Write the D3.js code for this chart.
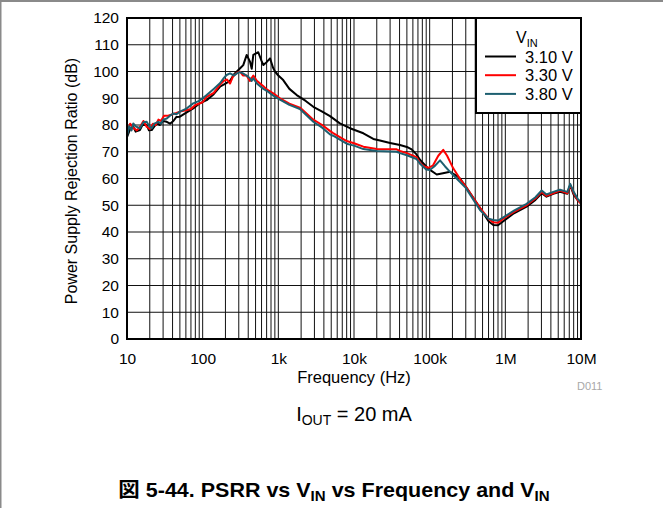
<!DOCTYPE html>
<html>
<head>
<meta charset="utf-8">
<script src="https://cdn.jsdelivr.net/npm/d3@7"></script>
<style>
  html, body { margin: 0; padding: 0; background: #fff; }
  svg { display: block; }
  text { font-family: "Liberation Sans", Arial, Helvetica, sans-serif; fill: #000; }
</style>
</head>
<body>
<svg id="chart" width="663" height="508"></svg>
<script>
// PSRR vs frequency for three input voltages (IOUT = 20 mA)
const seriesNames = ["3.10 V", "3.30 V", "3.80 V"];
const seriesColors = ["#000000", "#ff0000", "#1d5f70"];

const freq310 = [10, 11, 12.1, 13, 14.8, 16, 18.2, 19.5, 21.2, 23, 25, 27.3, 30, 33.5, 37, 41, 45, 50, 60, 75, 90, 113, 140, 169, 200, 230, 260, 283, 320, 344, 382, 422, 445, 467, 543, 600, 635, 700, 777, 850, 903, 1000, 1160, 1400, 1750, 2300, 2900, 3800, 4820, 6500, 8850, 13300, 18000, 22000, 30000, 40500, 50000, 57800, 67000, 74500, 90000, 101000, 124000, 150000, 186000, 227000, 252000, 300000, 462000, 600000, 693000, 800000, 940000, 1300000, 1910000, 2500000, 3020000, 3500000, 4300000, 5270000, 6600000, 7200000, 8000000, 9000000, 10000000];
const psrr310 = [75.5, 78.5, 79.4, 77.5, 78.1, 80, 80, 78, 78.1, 79.5, 80.5, 80, 81.5, 81.2, 80.5, 81.5, 83, 83.1, 84.5, 86.2, 88, 89.3, 91.5, 94.3, 95.5, 96.5, 99, 100, 101.5, 102.4, 106.2, 103.7, 101, 106.2, 107.2, 104, 102.4, 103.5, 104.9, 101.5, 100, 98.5, 96.8, 93.5, 91.2, 89, 86.8, 85, 83.3, 80.6, 78.8, 76.9, 74.8, 74.2, 73.3, 72.5, 71.8, 70.9, 69, 67, 64.5, 63.2, 61.5, 62, 62.5, 61, 60, 57, 49, 44, 42.6, 42.5, 44, 47, 49.5, 52, 54.5, 53.2, 54.3, 55, 54.3, 57.5, 54, 52, 50.8];

const freq330 = [10, 11, 12, 13.5, 15, 16.5, 18, 20, 22, 24, 26, 28, 31, 35, 40, 45, 50, 60, 70, 80, 100, 113, 140, 169, 190, 210, 230, 250, 283, 311, 340, 380, 422, 467, 520, 635, 702, 857, 1050, 1400, 1930, 2900, 3800, 4800, 5300, 8000, 10000, 13300, 20000, 36600, 40500, 50000, 67000, 74500, 85000, 96000, 110000, 130000, 151000, 170000, 205000, 250000, 300000, 462000, 600000, 693000, 800000, 940000, 1300000, 1910000, 2500000, 3020000, 3500000, 4300000, 5270000, 6600000, 7200000, 8000000, 9000000, 10000000];
const psrr330 = [77, 80.5, 79, 78, 79.5, 81.5, 79.5, 78.5, 80.5, 80, 82, 81.5, 83.5, 83.5, 84, 84.5, 85, 85.5, 86, 87.5, 88.5, 90.5, 92, 95, 96.5, 97, 95.5, 98, 99.5, 100, 98.5, 98.5, 96.5, 98.5, 96.5, 94.5, 93.3, 91.8, 90, 88, 86.5, 82, 80, 77.8, 77, 74, 73.2, 71.9, 71, 70.9, 70.3, 69.5, 68, 65.8, 64.5, 64, 64.8, 68.5, 70.7, 68.5, 63.8, 60, 57, 49, 45, 43.6, 43.5, 45, 47.5, 50, 52.5, 55, 53.5, 54.5, 55.5, 54.5, 57.5, 54.5, 52, 50.5];

const freq380 = [10, 10.7, 11.5, 12.1, 13, 14.8, 16.5, 18.2, 19.7, 21.2, 23, 25.9, 28, 30, 33.5, 37, 41, 45, 50, 60, 75, 90, 113, 140, 169, 190, 207, 230, 260, 283, 311, 340, 380, 422, 445, 467, 520, 635, 702, 857, 1050, 1400, 1930, 2900, 3800, 4800, 5300, 8000, 10000, 13300, 20000, 36600, 40500, 50000, 67000, 74500, 90000, 100000, 115000, 137000, 160000, 186000, 227000, 300000, 462000, 600000, 693000, 800000, 940000, 1300000, 1910000, 2500000, 3020000, 3500000, 4300000, 5270000, 6600000, 7200000, 8000000, 9000000, 10000000];
const psrr380 = [76, 79.5, 78, 80.6, 79.5, 78.8, 81, 81.2, 79.5, 78.8, 80.5, 81.2, 80.5, 82, 82.4, 83.5, 84.3, 84, 85, 86, 88.1, 89, 91.2, 93.5, 95.6, 97.5, 98.7, 99.3, 98.5, 99.3, 99.8, 99.3, 98.5, 97.5, 96.5, 97.5, 95.5, 93.5, 92.8, 91, 89.5, 87.5, 86, 81.2, 79, 76.5, 76, 73, 72.3, 71, 70.3, 70, 69.5, 68.7, 67.3, 65.5, 63.4, 63.2, 64.5, 66.8, 64.5, 62.5, 60, 56.5, 48.2, 45, 44.5, 44.3, 45.5, 48, 50.5, 53, 55.5, 54, 55, 55.8, 55, 58, 55, 52.5, 51];

const xTickValues = [10, 100, 1e3, 1e4, 1e5, 1e6, 1e7];
const xTickLabels = ["10", "100", "1k", "10k", "100k", "1M", "10M"];
const yTickValues = [0, 10, 20, 30, 40, 50, 60, 70, 80, 90, 100, 110, 120];

const seriesFreqs = [freq310, freq330, freq380];
const seriesValues = [psrr310, psrr330, psrr380];

const svg = d3.select("#chart");
const W = 663, H = 508;
const plot = { left: 127, right: 581, top: 18, bottom: 339 };

// page frame (grey rule along the top and left edge)
svg.append("rect").attr("x", 0).attr("y", 0).attr("width", W).attr("height", 2).attr("fill", "#8a8a8a");
svg.append("rect").attr("x", 0).attr("y", 0).attr("width", 1.5).attr("height", H).attr("fill", "#8a8a8a");

const x = d3.scaleLog().domain([10, 1e7]).range([plot.left, plot.right]);
const y = d3.scaleLinear().domain([0, 120]).range([plot.bottom, plot.top]);

const g = svg.append("g");

// minor + major vertical grid lines (1..9 per decade)
const vGrid = [];
for (let e = 1; e < 7; e++) {
  for (let m = 1; m <= 9; m++) vGrid.push(m * Math.pow(10, e));
}
vGrid.push(1e7);
g.append("g").selectAll("line").data(vGrid).join("line")
  .attr("x1", d => x(d)).attr("x2", d => x(d))
  .attr("y1", plot.top).attr("y2", plot.bottom)
  .attr("stroke", "#111").attr("stroke-width", 1);

// horizontal grid lines
g.append("g").selectAll("line").data(yTickValues).join("line")
  .attr("x1", plot.left).attr("x2", plot.right)
  .attr("y1", d => y(d)).attr("y2", d => y(d))
  .attr("stroke", "#111").attr("stroke-width", 1);

// axes: labels only, the frame is drawn separately
const yAxis = d3.axisLeft(y).tickValues(yTickValues).tickSize(0).tickPadding(8);
const yG = svg.append("g").attr("transform", `translate(${plot.left},0)`).call(yAxis);
yG.select(".domain").remove();
yG.selectAll("text").attr("font-size", 15.5).attr("font-family", "Liberation Sans, Arial, sans-serif").attr("fill", "#000");

const xAxis = d3.axisBottom(x).tickValues(xTickValues).tickFormat((d, i) => xTickLabels[i]).tickSize(0).tickPadding(14);
const xG = svg.append("g").attr("transform", `translate(0,${plot.bottom})`).call(xAxis);
xG.select(".domain").remove();
xG.selectAll("text").attr("font-size", 15.5).attr("font-family", "Liberation Sans, Arial, sans-serif").attr("fill", "#000");

// curves
const clip = svg.append("clipPath").attr("id", "plotClip").append("rect")
  .attr("x", plot.left).attr("y", plot.top)
  .attr("width", plot.right - plot.left).attr("height", plot.bottom - plot.top);

const line = d3.line().x(d => x(d[0])).y(d => y(d[1]));
seriesNames.forEach((name, i) => {
  const pts = d3.zip(seriesFreqs[i], seriesValues[i]);
  svg.append("path").datum(pts)
    .attr("d", line)
    .attr("fill", "none")
    .attr("stroke", seriesColors[i])
    .attr("stroke-width", 2)
    .attr("stroke-linejoin", "round")
    .attr("clip-path", "url(#plotClip)");
});

// plot frame
svg.append("rect")
  .attr("x", plot.left).attr("y", plot.top)
  .attr("width", plot.right - plot.left).attr("height", plot.bottom - plot.top)
  .attr("fill", "none").attr("stroke", "#000").attr("stroke-width", 2);

// legend
const lg = svg.append("g");
lg.append("rect").attr("x", 476).attr("y", 18).attr("width", 105).attr("height", 95)
  .attr("fill", "#fff").attr("stroke", "#000").attr("stroke-width", 2);
const lt = lg.append("text").attr("x", 516).attr("y", 43).attr("font-size", 16);
lt.append("tspan").text("V");
lt.append("tspan").attr("font-size", 11).attr("dy", 4).text("IN");
seriesNames.forEach((name, i) => {
  const yy = 56.5 + i * 18.7;
  lg.append("line").attr("x1", 485).attr("x2", 516).attr("y1", yy).attr("y2", yy)
    .attr("stroke", seriesColors[i]).attr("stroke-width", 2);
  lg.append("text").attr("x", 525).attr("y", yy + 6).attr("font-size", 16.5).text(name);
});

// axis titles
svg.append("text")
  .attr("transform", `translate(77,181) rotate(-90)`)
  .attr("text-anchor", "middle").attr("font-size", 16)
  .text("Power Supply Rejection Ratio (dB)");
svg.append("text").attr("x", 354).attr("y", 383)
  .attr("text-anchor", "middle").attr("font-size", 16.5).text("Frequency (Hz)");

svg.append("text").attr("x", 577).attr("y", 390).attr("font-size", 11)
  .attr("fill", "#a8a8a8").style("fill", "#a8a8a8").text("D011");

// condition note
const note = svg.append("text").attr("x", 354).attr("y", 421).attr("text-anchor", "middle").attr("font-size", 20);
note.append("tspan").text("I");
note.append("tspan").attr("font-size", 14).attr("dy", 4).text("OUT");
note.append("tspan").attr("dy", -4).text(" = 20 mA");

// figure caption (slightly widened face)
const cap = svg.append("text").attr("transform", "translate(334,497) scale(1.075,1)")
  .attr("text-anchor", "middle")
  .attr("font-size", 20).attr("font-weight", "bold");
cap.append("tspan").attr("font-family", "Noto Sans CJK JP, sans-serif").text("図");
cap.append("tspan").text(" 5-44. PSRR vs V");
cap.append("tspan").attr("font-size", 14).attr("dy", 4).text("IN");
cap.append("tspan").attr("dy", -4).text(" vs Frequency and V");
cap.append("tspan").attr("font-size", 14).attr("dy", 4).text("IN");
</script>
</body>
</html>
